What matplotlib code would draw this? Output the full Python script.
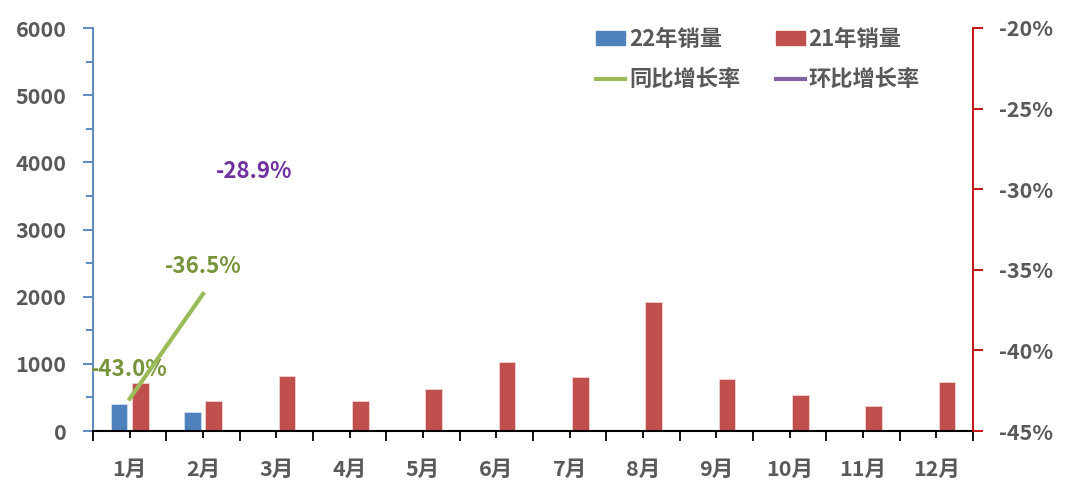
import matplotlib.pyplot as plt
import numpy as np
from matplotlib.lines import Line2D
from matplotlib.patches import Patch
from matplotlib.ticker import MultipleLocator, FuncFormatter

plt.rcParams['font.family'] = ['Noto Sans CJK SC', 'DejaVu Sans']
plt.rcParams['font.weight'] = 'bold'

# 数据
months = ["1月", "2月", "3月", "4月", "5月", "6月", "7月", "8月", "9月", "10月", "11月", "12月"]
sales_22 = [402, 278]
sales_21 = [710, 447, 814, 447, 625, 1027, 800, 1925, 770, 531, 372, 730]
yoy = [-0.430, -0.365]          # 同比增长率
mom = [np.nan, -0.289]          # 环比增长率

grey = "#595959"
c_blue = "#4F81BD"
c_red = "#C0504D"
c_green = "#9BBB59"
c_purple = "#8064A2"

fig = plt.figure(figsize=(10.8, 4.94), dpi=100)
ax = fig.add_axes([93 / 1080, 1 - 431 / 494, 880 / 1080, 403 / 494])
ax2 = ax.twinx()

x = np.arange(len(months))
w = 0.225
off = 0.145
ax.bar(x[:len(sales_22)] - off, sales_22, w, color=c_blue, edgecolor="#dce6f2", linewidth=0.5, zorder=2)
ax.bar(x + off, sales_21, w, color=c_red, edgecolor="#f2dcdb", linewidth=0.5, zorder=2)

ax.set_xlim(-0.5, 11.5)
ax.set_ylim(0, 6000)
ax.yaxis.set_major_locator(MultipleLocator(1000))
ax.yaxis.set_minor_locator(MultipleLocator(500))
ax.tick_params(axis='y', which='major', direction='out', length=7, width=1.3, color=c_blue,
               labelsize=15.5, labelcolor=grey, pad=12)
ax.tick_params(axis='y', which='minor', direction='out', length=5, width=1.3, color=c_blue)

# x轴: 边界处主刻度, 中心处次刻度(带标签)
ax.set_xticks(np.arange(-0.5, 12, 1))
ax.set_xticklabels([])
ax.set_xticks(x, minor=True)
ax.set_xticklabels(months, minor=True)
ax.tick_params(axis='x', which='major', direction='out', length=7, width=1.3, color='black')
ax.tick_params(axis='x', which='minor', direction='out', length=5, width=1.3, color='black',
               labelsize=15.5, labelcolor=grey, pad=15)

for s in ['top', 'right']:
    ax.spines[s].set_visible(False)
ax.spines['left'].set_color(c_blue)
ax.spines['left'].set_linewidth(1.3)
ax.spines['bottom'].set_color('black')
ax.spines['bottom'].set_linewidth(1.5)
ax.spines['bottom'].set_zorder(3)

ax2.plot(x[:2], yoy, color=c_green, linewidth=3, zorder=4)
ax2.plot(x[:2], mom, color=c_purple, linewidth=3, zorder=4)
ax2.set_ylim(-0.45, -0.20)
ax2.yaxis.set_major_locator(MultipleLocator(0.05))
ax2.yaxis.set_major_formatter(FuncFormatter(lambda v, p: f"{v*100:.0f}%"))
ax2.tick_params(axis='y', direction='out', length=7, width=1.3, color="#C00000",
                labelsize=15.5, labelcolor=grey, pad=12)
for s in ['top', 'left', 'bottom']:
    ax2.spines[s].set_visible(False)
ax2.spines['right'].set_color("#C00000")
ax2.spines['right'].set_linewidth(1.3)

# 数据标签
lab_kw = dict(textcoords='offset points', ha='center', va='center', fontsize=16, fontweight='bold')
ax2.annotate(f"{yoy[0]*100:.1f}%", (x[0], yoy[0]), xytext=(0, 21), color="#77933C", **lab_kw)
ax2.annotate(f"{yoy[1]*100:.1f}%", (x[1], yoy[1]), xytext=(0, 20), color="#77933C", **lab_kw)
ax2.annotate(f"{mom[1]*100:.1f}%", (x[1], mom[1]), xytext=(37, 0), color="#7030A0", **lab_kw)

# 图例 (按行排列: 22/21 在第一行)
handles = [Patch(color=c_blue), Line2D([], [], color=c_green, linewidth=3),
           Patch(color=c_red), Line2D([], [], color=c_purple, linewidth=3)]
labels = ["22年销量", "同比增长率", "21年销量", "环比增长率"]
leg = fig.legend(handles, labels, loc='upper left', bbox_to_anchor=(576 / 1080, 1 - 8 / 494),
                 ncol=2, frameon=False, fontsize=16, handlelength=1.3, handleheight=0.6,
                 handletextpad=0.18, columnspacing=1.6, labelspacing=0.78)
for t in leg.get_texts():
    t.set_color(grey)
    t.set_fontweight('bold')

fig.savefig("out.png", dpi=100)
